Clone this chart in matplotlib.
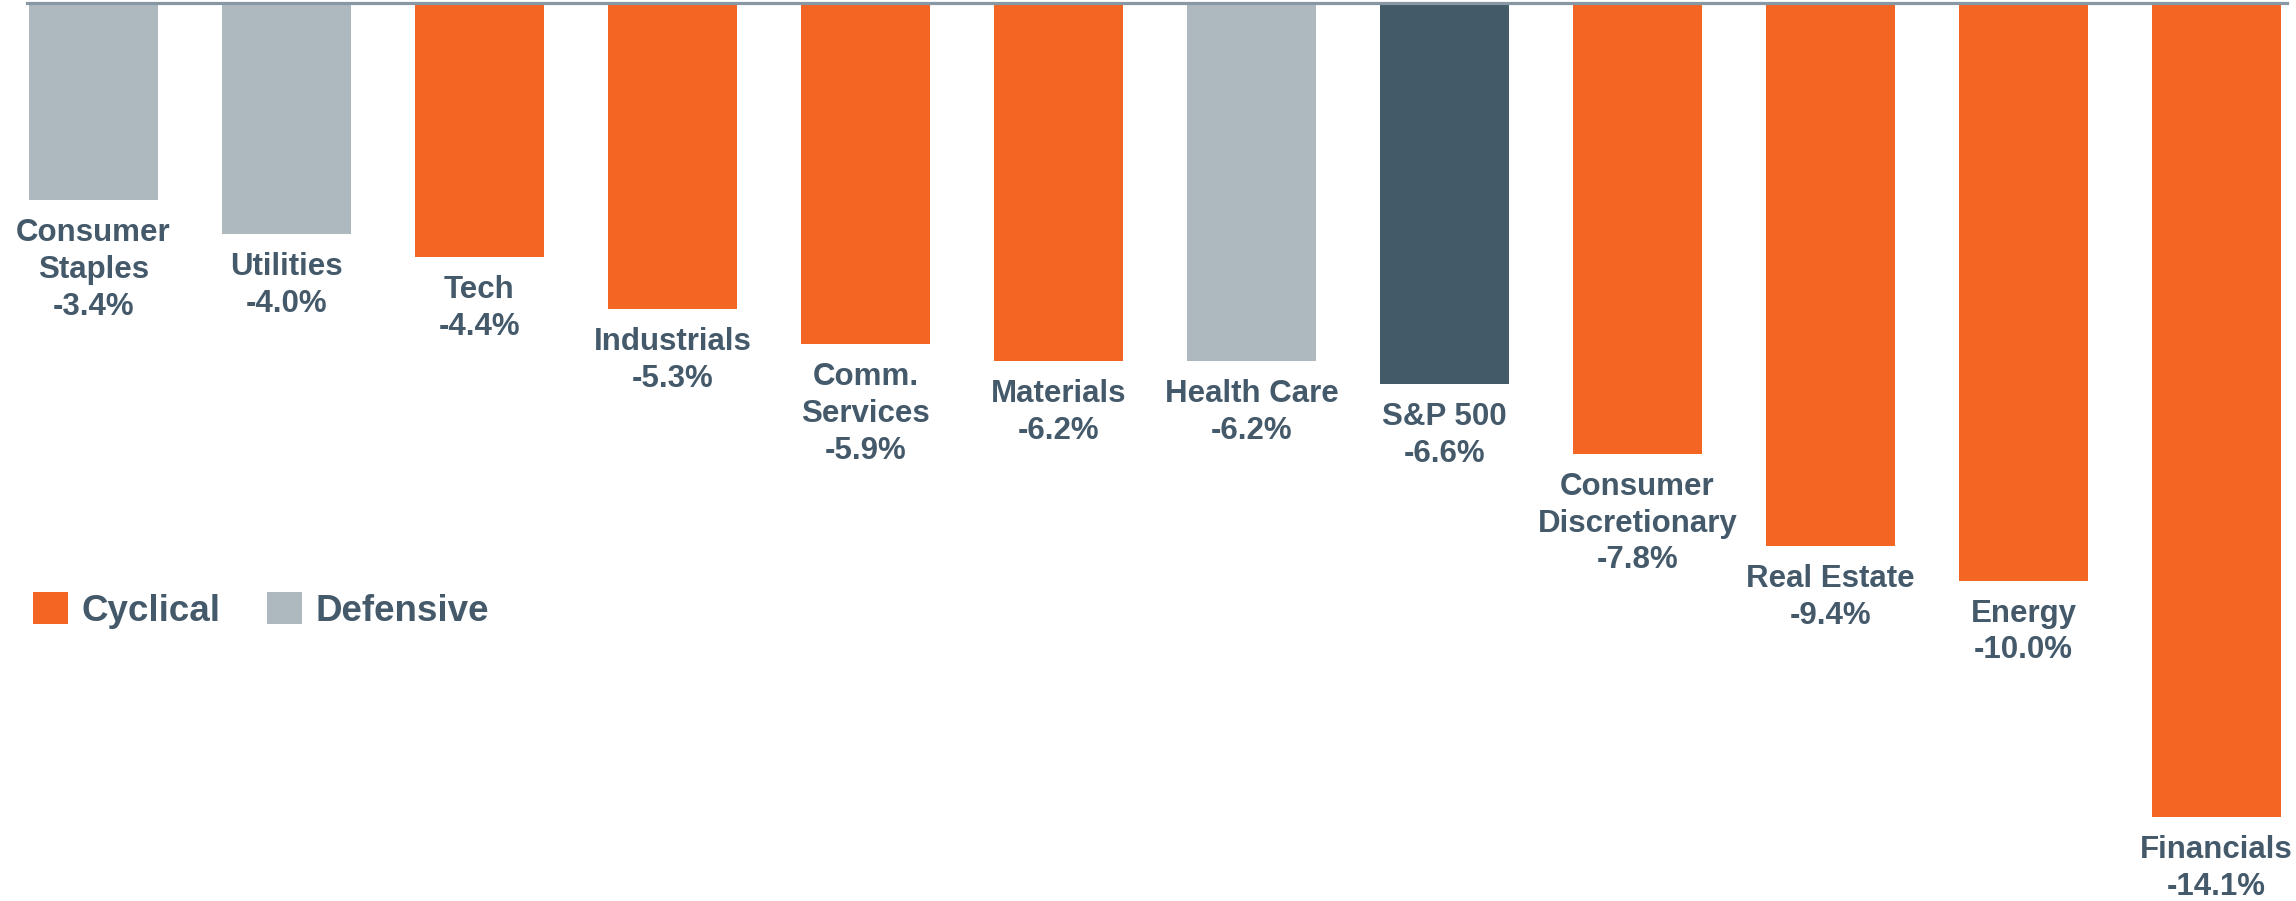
import numpy as np
import matplotlib
matplotlib.use("Agg")
import matplotlib.pyplot as plt
from matplotlib.patches import Patch

plt.rcParams['font.family'] = ['Liberation Sans', 'DejaVu Sans']

names = ["Consumer\nStaples", "Utilities", "Tech", "Industrials", "Comm.\nServices",
         "Materials", "Health Care", "S&P 500", "Consumer\nDiscretionary",
         "Real Estate", "Energy", "Financials"]
values = [-3.4, -4.0, -4.4, -5.3, -5.9, -6.2, -6.2, -6.6, -7.8, -9.4, -10.0, -14.1]
kinds = ["def", "def", "cyc", "cyc", "cyc", "cyc", "def", "index", "cyc", "cyc", "cyc", "cyc"]

orange = "#F36523"
gray = "#AEB8BF"
slate = "#435A69"
txt = "#44596A"
cmap = {"cyc": orange, "def": gray, "index": slate}

fig = plt.figure(figsize=(22.96, 9.01), dpi=100)
ax = fig.add_axes([0, 0, 1, 1])

x = np.arange(len(values))
ax.bar(x, values, width=0.668, color=[cmap[k] for k in kinds], zorder=2)
ax.axhline(0, xmin=27/2296, xmax=2287/2296, color="#8797A4", lw=2.3, zorder=3)

for i, (n, v) in enumerate(zip(names, values)):
    ax.annotate(f"{n}\n{v:.1f}%", xy=(i, v), xytext=(0, -13), textcoords="offset points",
                ha="center", va="top", fontsize=22.5, fontweight="bold", color=txt,
                linespacing=1.3)

ax.set_xlim(-93.5/193, (2296-93.5)/193)
ax.set_ylim(-(901-3.5)/57.7, 3.5/57.7)
ax.axis("off")

handles = [Patch(facecolor=orange, label="Cyclical"), Patch(facecolor=gray, label="Defensive")]
leg = fig.legend(handles=handles, loc="center left", bbox_to_anchor=(33/2296, (901-610.5)/901),
                 ncol=2, frameon=False, prop={"weight": "bold", "size": 26.5},
                 labelcolor=txt, handlelength=0.95, handleheight=0.95, handletextpad=0.38,
                 columnspacing=1.25, borderpad=0, borderaxespad=0)

fig.savefig("out.png", dpi=100)
